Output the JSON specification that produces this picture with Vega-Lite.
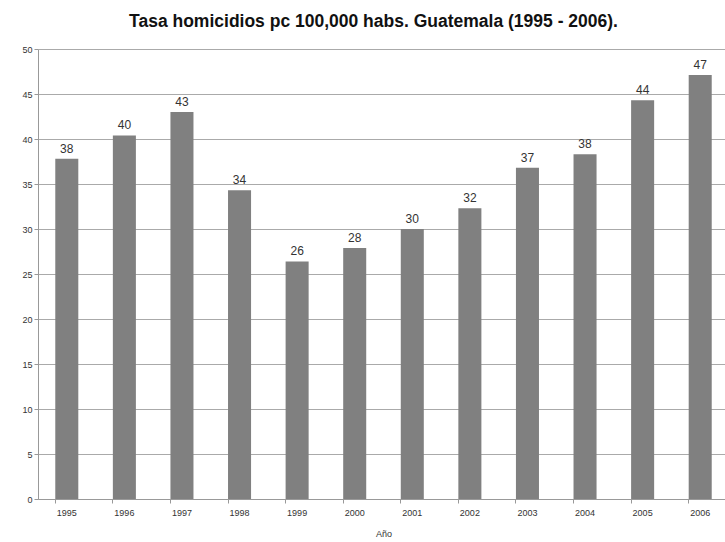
{
  "$schema": "https://vega.github.io/schema/vega-lite/v6.json",
  "autosize": "none",
  "padding": {"left": 38, "top": 49, "right": 0, "bottom": 43},
  "width": 691,
  "height": 450,
  "background": "white",
  "title": {
    "text": "Tasa homicidios pc 100,000 habs. Guatemala (1995 - 2006).",
    "font": "Liberation Sans",
    "fontSize": 17.5,
    "fontWeight": "bold",
    "color": "#111111",
    "anchor": "middle",
    "offset": 15,
    "dx": -10
  },
  "data": {
    "values": [
      {"year": "1995", "rate": 37.8},
      {"year": "1996", "rate": 40.4},
      {"year": "1997", "rate": 43.0},
      {"year": "1998", "rate": 34.3},
      {"year": "1999", "rate": 26.4},
      {"year": "2000", "rate": 27.9},
      {"year": "2001", "rate": 30.0},
      {"year": "2002", "rate": 32.3},
      {"year": "2003", "rate": 36.8},
      {"year": "2004", "rate": 38.3},
      {"year": "2005", "rate": 44.3},
      {"year": "2006", "rate": 47.1}
    ]
  },
  "encoding": {
    "x": {
      "field": "year",
      "type": "nominal",
      "sort": null,
      "scale": {"paddingInner": 0.6, "paddingOuter": 0.3},
      "axis": {
        "title": "Año",
        "titleFont": "Liberation Sans",
        "titleFontSize": 9,
        "titleFontWeight": "normal",
        "titleColor": "#333333",
        "titlePadding": 12,
        "labelAngle": 0,
        "labelFont": "Liberation Sans",
        "labelFontSize": 9,
        "labelColor": "#333333",
        "labelPadding": 5,
        "bandPosition": 0,
        "tickSize": 4,
        "tickColor": "#999999",
        "domainColor": "#999999",
        "grid": false
      }
    },
    "y": {
      "field": "rate",
      "type": "quantitative",
      "scale": {"domain": [0, 50], "nice": false},
      "axis": {
        "title": null,
        "values": [0, 5, 10, 15, 20, 25, 30, 35, 40, 45, 50],
        "labelFont": "Liberation Sans",
        "labelFontSize": 9,
        "labelColor": "#333333",
        "labelPadding": 2,
        "tickSize": 4,
        "tickColor": "#999999",
        "domainColor": "#999999",
        "grid": true,
        "gridColor": "#aaaaaa",
        "gridWidth": 1
      }
    }
  },
  "layer": [
    {"mark": {"type": "bar", "color": "#808080"}},
    {
      "mark": {
        "type": "text",
        "baseline": "bottom",
        "dy": -3,
        "font": "Liberation Sans",
        "fontSize": 12,
        "color": "#333333"
      },
      "encoding": {"text": {"field": "rate", "type": "quantitative", "format": ".0f"}}
    }
  ],
  "config": {"view": {"stroke": null}}
}
